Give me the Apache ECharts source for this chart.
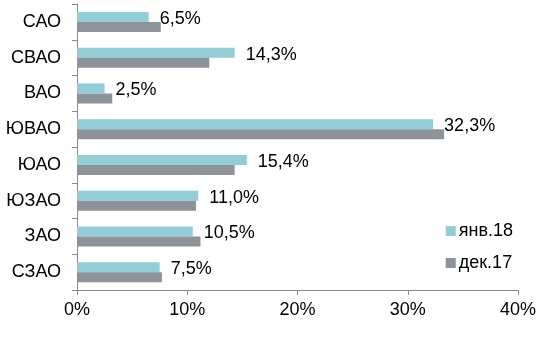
<!DOCTYPE html>
<html><head><meta charset="utf-8">
<script src="https://cdn.jsdelivr.net/npm/echarts@6/dist/echarts.min.js"></script>
<style>html,body{margin:0;padding:0;background:#fff}#c{width:549px;height:363px}</style>
</head><body><div id="c"></div>
<script>
const categories = ['САО','СВАО','ВАО','ЮВАО','ЮАО','ЮЗАО','ЗАО','СЗАО'];
const jan18 = [6.5,14.3,2.5,32.3,15.4,11.0,10.5,7.5];
const dec17 = [7.6,12.0,3.2,33.3,14.3,10.8,11.2,7.7];
const seriesNames = ['янв.18','дек.17'];
const xTicks = [0,10,20,30,40];

const font = 'Liberation Sans, Arial, sans-serif';
const chart = echarts.init(document.getElementById('c'), null, {renderer:'canvas'});
chart.setOption({
  animation:false,
  grid:{left:77,right:31,top:4,bottom:73,containLabel:false},
  legend:{
    orient:'vertical', right:31, top:217,
    itemWidth:10, itemHeight:10, itemGap:14,
    icon:'rect',
    textStyle:{fontFamily:font,fontSize:18,color:'#000',padding:[0,0,0,-2]},
    data:seriesNames
  },
  xAxis:{
    type:'value', min:xTicks[0], max:xTicks[xTicks.length-1], interval:10,
    axisLine:{show:true,lineStyle:{color:'#898989',width:1}},
    axisTick:{show:true,length:5,lineStyle:{color:'#898989'}},
    splitLine:{show:false},
    axisLabel:{formatter:'{value}%',fontFamily:font,fontSize:18,color:'#000',margin:11}
  },
  yAxis:{
    type:'category', inverse:true, data:categories,
    axisLine:{show:true,lineStyle:{color:'#898989',width:1}},
    axisTick:{show:true,length:5,lineStyle:{color:'#898989'}},
    axisLabel:{fontFamily:font,fontSize:18,color:'#000',margin:16}
  },
  series:[
    {name:seriesNames[0],type:'bar',data:jan18,barWidth:10,barGap:'0%',
     itemStyle:{color:'#93CDD6'},
     label:{show:true,position:'right',distance:11,offset:[0,2],fontFamily:font,fontSize:18,color:'#000',
       formatter:p=>p.value.toFixed(1).replace('.',',')+'%'}},
    {name:seriesNames[1],type:'bar',data:dec17,barWidth:10,barGap:'0%',
     itemStyle:{color:'#8E9299'}}
  ]
});
</script></body></html>
